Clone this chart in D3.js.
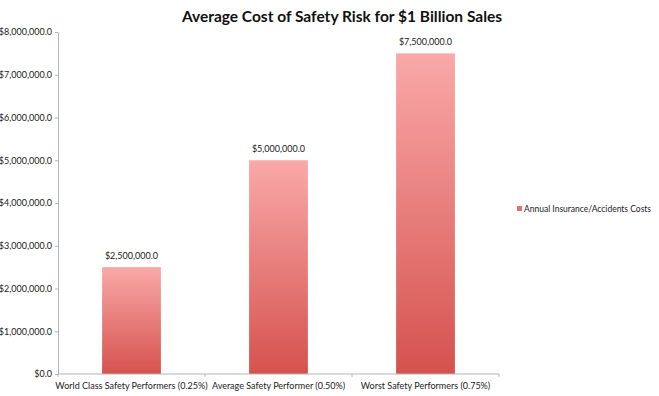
<!DOCTYPE html>
<html><head><meta charset="utf-8">
<script src="https://cdn.jsdelivr.net/npm/d3@7"></script>
<style>body{margin:0;background:#fff;} svg{display:block;font-family:Lato,"Open Sans",sans-serif;}</style>
</head><body>
<svg id="c" width="659" height="396"></svg>
<script>
const categories = ["World Class Safety Performers (0.25%)", "Average Safety Performer (0.50%)", "Worst Safety Performers (0.75%)"];
const values = [2500000, 5000000, 7500000];
const yTicks = [0,1000000,2000000,3000000,4000000,5000000,6000000,7000000,8000000];
const seriesName = "Annual Insurance/Accidents Costs";
const title = "Average Cost of Safety Risk for $1 Billion Sales";

const svg = d3.select("#c");
const x0 = 58, x1 = 499, yTop = 32, yBot = 374;
const x = d3.scaleBand().domain(categories).range([x0, x1]).paddingInner(0.6).paddingOuter(0.3);
const y = d3.scaleLinear().domain([0, 8000000]).range([yBot, yTop]);
const fmt = v => "$" + d3.format(",.1f")(v);

const defs = svg.append("defs");
const g = defs.append("linearGradient").attr("id","grad").attr("x1",0).attr("y1",0).attr("x2",0).attr("y2",1);
g.append("stop").attr("offset","0%").attr("stop-color","#f9a9a8");
g.append("stop").attr("offset","100%").attr("stop-color","#d5524e");

svg.append("text").attr("x", 342).attr("y", 22).attr("text-anchor","middle")
  .attr("font-size", 15.5).attr("font-weight","bold").attr("fill","#111").text(title);

// y axis
const ya = svg.append("g").attr("transform",`translate(${x0},0)`)
  .call(d3.axisLeft(y).tickValues(yTicks).tickFormat(fmt).tickSize(3).tickSizeOuter(0));
ya.select(".domain").attr("stroke","#b5b5b5");
ya.selectAll(".tick line").attr("stroke","#b5b5b5");
ya.selectAll(".tick text").attr("font-size",9).attr("fill","#222").attr("x",-6).attr("font-family","Lato,sans-serif");

// bars
svg.selectAll("rect.bar").data(values).enter().append("rect").attr("class","bar")
  .attr("x",(d,i)=>x(categories[i])).attr("width",x.bandwidth())
  .attr("y",d=>y(d)).attr("height",d=>yBot-y(d)).attr("fill","url(#grad)");

svg.selectAll("text.val").data(values).enter().append("text").attr("class","val")
  .attr("x",(d,i)=>x(categories[i])+x.bandwidth()/2).attr("y",d=>y(d)-8)
  .attr("text-anchor","middle").attr("font-size",9).attr("fill","#222").text(fmt);

// x axis
svg.append("line").attr("x1",x0).attr("x2",x1).attr("y1",yBot).attr("y2",yBot).attr("stroke","#b5b5b5");
const bounds = [0,1,2,3].map(i => x0 + i*(x1-x0)/3);
svg.selectAll("line.xt").data(bounds).enter().append("line").attr("class","xt")
  .attr("x1",d=>d).attr("x2",d=>d).attr("y1",yBot).attr("y2",yBot+3).attr("stroke","#b5b5b5");
svg.selectAll("text.cat").data(categories).enter().append("text").attr("class","cat")
  .attr("x",d=>x(d)+x.bandwidth()/2).attr("y",yBot+15).attr("text-anchor","middle")
  .attr("font-size",9).attr("fill","#222").text(d=>d);

// legend
svg.append("rect").attr("x",517).attr("y",206).attr("width",5).attr("height",5).attr("fill","#e07270");
svg.append("text").attr("x",524).attr("y",211.5).attr("font-size",8.5).attr("fill","#222").text(seriesName);
</script>
</body></html>
